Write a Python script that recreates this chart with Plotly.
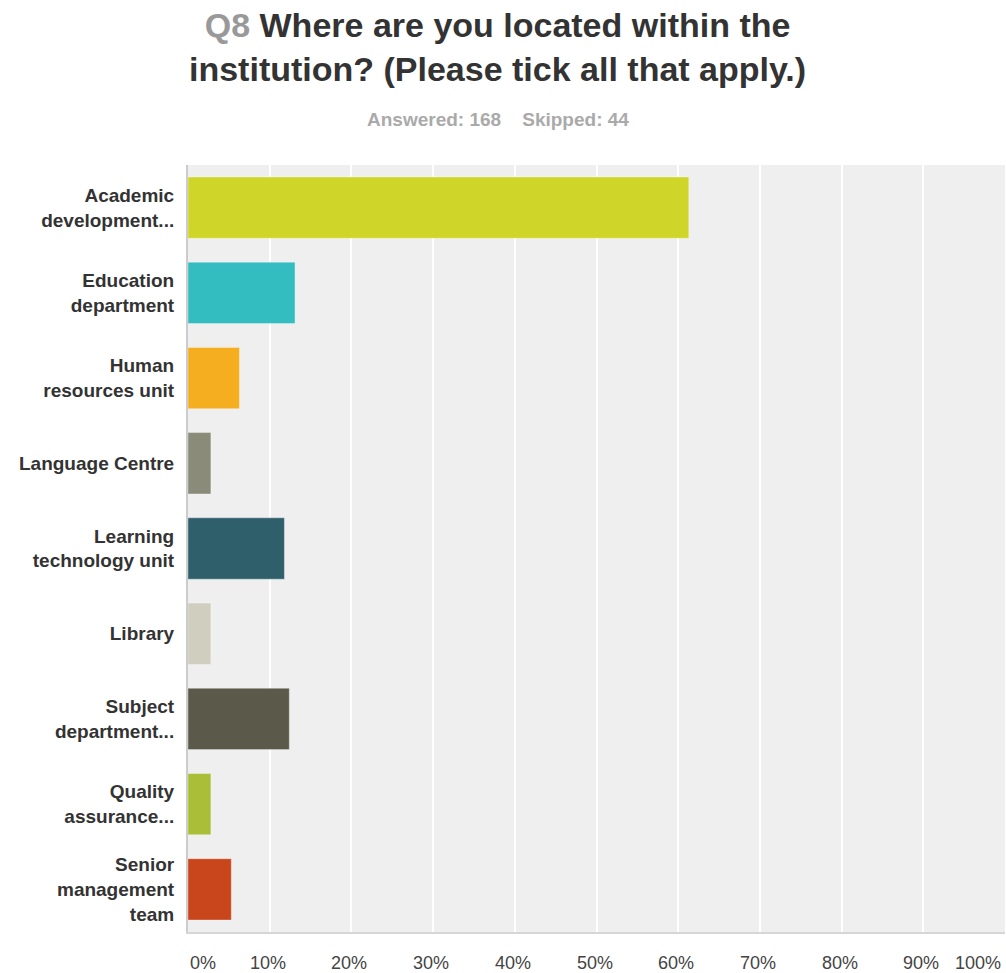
import plotly.graph_objects as go

# Survey responses, Q8 (percent of respondents, multiple answers allowed)
categories = [
    "Academic<br>development...",
    "Education<br>department",
    "Human<br>resources unit",
    "Language Centre",
    "Learning<br>technology unit",
    "Library",
    "Subject<br>department...",
    "Quality<br>assurance...",
    "Senior<br>management<br>team",
]
percentages = [61.3, 13.1, 6.3, 2.8, 11.8, 2.8, 12.4, 2.8, 5.3]
bar_colors = [
    "#d0d52a", "#33bdc0", "#f6ae21", "#8a8b79", "#2f5f6b",
    "#cfcebf", "#5b5a4a", "#aabe38", "#c9461c",
]
tick_values = [0, 10, 20, 30, 40, 50, 60, 70, 80, 90, 100]
tick_labels = ["0%", "10%", "20%", "30%", "40%", "50%", "60%", "70%", "80%", "90%", "100%"]

title_text = (
    "<span style='color:#999999'>Q8</span> Where are you located within the"
    "<br>institution? (Please tick all that apply.)"
)
subtitle_text = "Answered: 168&nbsp;&nbsp;&nbsp;&nbsp;Skipped: 44"

font_family = "Liberation Sans, Arial, sans-serif"

fig = go.Figure(
    go.Bar(
        x=percentages,
        y=categories,
        orientation="h",
        marker=dict(color=bar_colors, line=dict(color="rgba(255,255,255,0.35)", width=1)),
        hoverinfo="x+y",
    )
)

# Percent labels under the axis: ends are aligned inward so they stay on the page
annotations = []
for v, t in zip(tick_values, tick_labels):
    if v == tick_values[0]:
        anchor, shift = "left", 0
    elif v == tick_values[-1]:
        anchor, shift = "right", -2
    else:
        anchor, shift = "center", -2
    annotations.append(dict(
        x=v, y=-0.0404, xref="x", yref="paper",
        text=t, showarrow=False, xanchor=anchor, yanchor="middle", xshift=shift,
        font=dict(family=font_family, size=18, color="#444444"),
    ))

# Question title and response counts above the plot
annotations.append(dict(
    x=0.3794, y=1.154, xref="paper", yref="paper",
    text=f"<b>{title_text}</b>", showarrow=False,
    xanchor="center", yanchor="middle", align="center",
    font=dict(family=font_family, size=34, color="#333333"),
))
annotations.append(dict(
    x=0.3794, y=1.059, xref="paper", yref="paper",
    text=f"<b>{subtitle_text}</b>", showarrow=False,
    xanchor="center", yanchor="middle",
    font=dict(family=font_family, size=19, color="#aaaaaa"),
))

fig.update_layout(
    width=1006,
    height=973,
    margin=dict(l=188, r=1, t=165, b=41),
    paper_bgcolor="white",
    plot_bgcolor="#efefef",
    bargap=0.28,
    showlegend=False,
    xaxis=dict(
        range=[0, 100],
        tickvals=tick_values,
        showticklabels=False,
        showgrid=True, gridcolor="white", gridwidth=2,
        zeroline=False,
        showline=True, linecolor="#d6d6d6", linewidth=2,
        fixedrange=True,
    ),
    yaxis=dict(
        autorange="reversed",
        showgrid=False, zeroline=False,
        showline=True, linecolor="#cccccc", linewidth=2,
        ticks="", ticklabelstandoff=8,
        tickfont=dict(family=font_family, size=19, color="#333333", weight="bold"),
        fixedrange=True,
    ),
    annotations=annotations,
)

fig.write_html("out.html")
